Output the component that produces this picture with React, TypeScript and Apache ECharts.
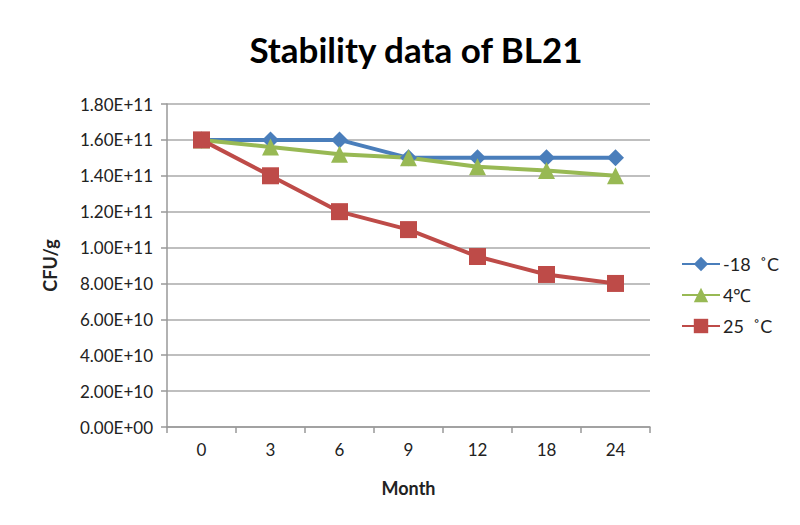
import React, { useEffect, useRef } from "react";
import * as echarts from "echarts";

const months = ["0", "3", "6", "9", "12", "18", "24"];
const seriesNames = ["-18  ˚C", "4℃", "25  ˚C"];
const minus18 = [1.6e11, 1.6e11, 1.6e11, 1.5e11, 1.5e11, 1.5e11, 1.5e11];
const plus4 = [1.6e11, 1.56e11, 1.52e11, 1.5e11, 1.45e11, 1.43e11, 1.4e11];
const plus25 = [1.6e11, 1.4e11, 1.2e11, 1.1e11, 0.95e11, 0.85e11, 0.8e11];

const FONT = "Lato, 'Open Sans', sans-serif";

function fmt(v: number): string {
  if (v === 0) return "0.00E+00";
  const e = Math.floor(Math.log10(Math.abs(v)) + 1e-9);
  const m = v / Math.pow(10, e);
  const es = (e >= 0 ? "+" : "-") + String(Math.abs(e)).padStart(2, "0");
  return m.toFixed(2) + "E" + es;
}

export default function App() {
  const ref = useRef<HTMLDivElement>(null);
  useEffect(() => {
    if (!ref.current) return;
    const chart = echarts.init(ref.current, null, { renderer: "svg" });
    const mk = (name: string, data: number[], color: string, symbol: string, size: number) => ({
      name,
      type: "line",
      data,
      symbol,
      symbolSize: size,
      lineStyle: { color, width: 4 },
      itemStyle: { color },
      z: 3,
    });
    chart.setOption({
      animation: false,
      backgroundColor: "#ffffff",
      title: {
        text: "Stability data of BL21",
        left: 403,
        textAlign: "center",
        top: 18,
        textStyle: { fontFamily: FONT, fontSize: 35, fontWeight: "bold", color: "#000" },
      },
      legend: {
        orient: "vertical",
        left: 668,
        top: 242,
        itemGap: 13,
        itemWidth: 38,
        itemHeight: 18,
        textStyle: { fontFamily: FONT, fontSize: 18, color: "#222", padding: [0, 0, 0, -2] },
        data: seriesNames,
      },
      grid: { left: 159, right: 142, top: 96, bottom: 90 },
      xAxis: {
        type: "category",
        data: months,
        boundaryGap: true,
        name: "Month",
        nameLocation: "middle",
        nameGap: 52,
        nameTextStyle: { fontFamily: FONT, fontSize: 18, fontWeight: "bold", color: "#222" },
        axisLine: { lineStyle: { color: "#999", width: 1.5 } },
        axisTick: { show: true, length: 6, lineStyle: { color: "#999", width: 1.5 } },
        axisLabel: { fontFamily: FONT, fontSize: 17, color: "#222", margin: 14 },
      },
      yAxis: {
        type: "value",
        min: 0,
        max: 1.8e11,
        interval: 2e10,
        name: "CFU/g",
        nameLocation: "middle",
        nameGap: 108,
        nameTextStyle: { fontFamily: FONT, fontSize: 18, fontWeight: "bold", color: "#222" },
        axisLine: { show: true, lineStyle: { color: "#999", width: 1.5 } },
        axisTick: { show: true, length: 6, lineStyle: { color: "#999", width: 1.5 } },
        splitLine: { show: true, lineStyle: { color: "#aaa", width: 1.5 } },
        axisLabel: { fontFamily: FONT, fontSize: 17, color: "#222", margin: 14, formatter: (v: number) => fmt(v) },
      },
      series: [
        mk(seriesNames[0], minus18, "#4a7ebb", "diamond", 17),
        mk(seriesNames[1], plus4, "#98b954", "triangle", 17),
        mk(seriesNames[2], plus25, "#be4b48", "rect", 17),
      ],
    });
    return () => chart.dispose();
  }, []);
  return <div ref={ref} style={{ width: 784, height: 509 }} />;
}
